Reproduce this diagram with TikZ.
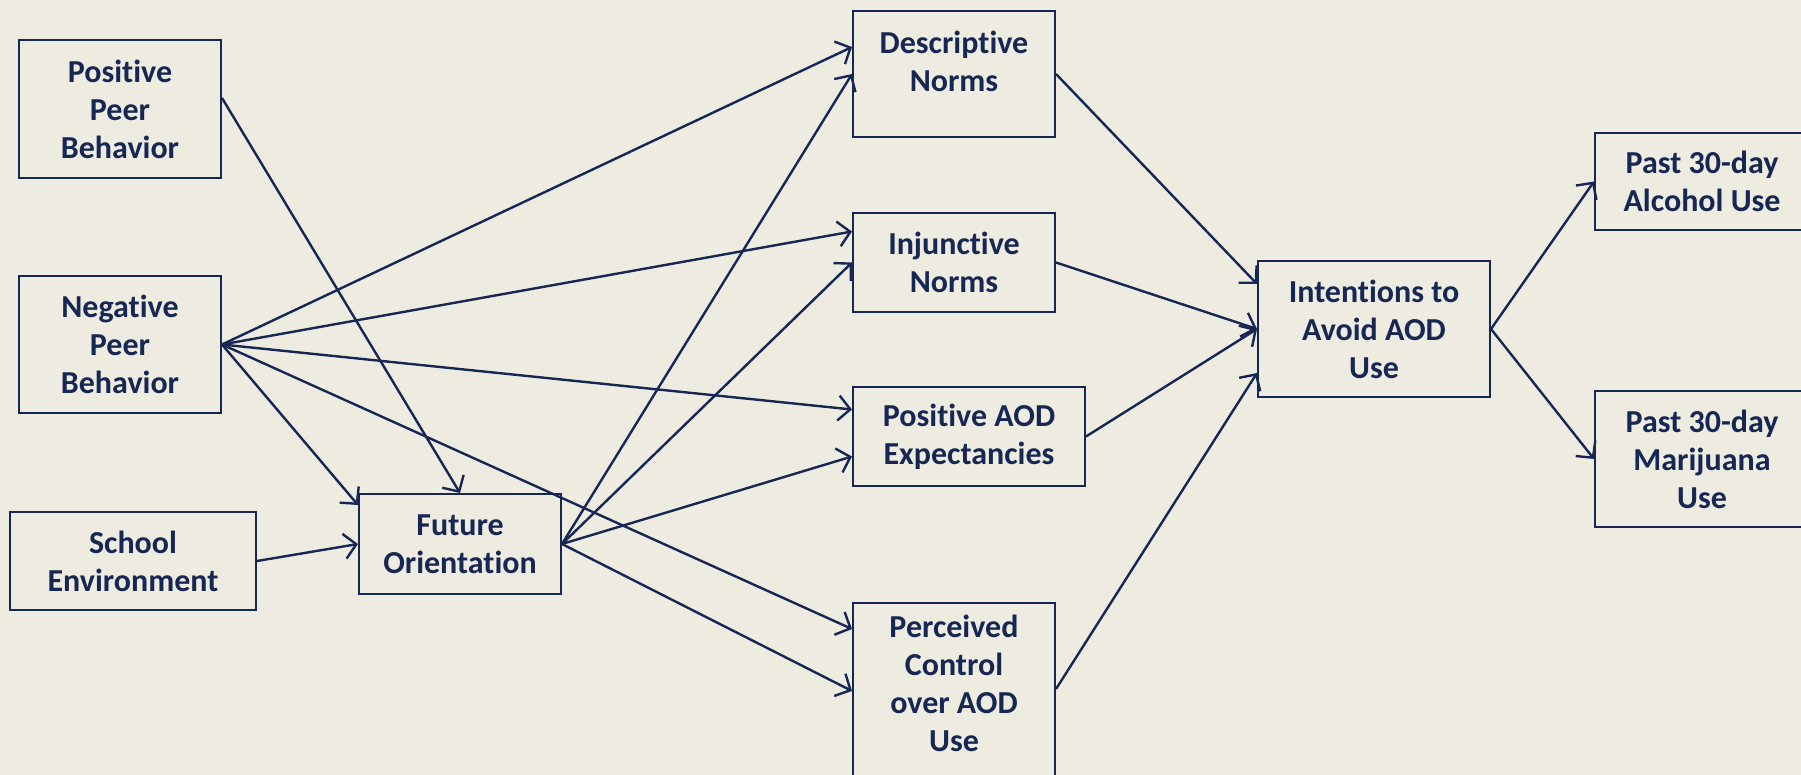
\documentclass[tikz,border=0pt]{standalone}
\usepackage{fontspec}
\setmainfont{Carlito}[Ligatures={NoCommon}]
\usetikzlibrary{arrows.meta,calc}
\definecolor{ink}{HTML}{172753}
\definecolor{bg}{HTML}{EEEBE1}
\tikzset{
  box/.style={draw=ink, line width=2pt, rectangle, anchor=north west, inner sep=0pt,
    text=ink, font=\fontsize{32}{38}\selectfont\bfseries, align=center},
  toplab/.style={anchor=north, text=ink, font=\fontsize{32}{38}\selectfont\bfseries, align=center, inner sep=0pt},
  link/.style={draw=ink, line width=2.4pt, -{Straight Barb[length=12pt,width=25pt]}}
}
\begin{document}
\begin{tikzpicture}[x=1pt,y=-1pt]
\fill[bg] (0,0) rectangle (1801,775);
\useasboundingbox (0,0) rectangle (1801,775);
\begin{scope}
\clip (0,0) rectangle (1801,775);
\node[box, minimum width=202pt, minimum height=138pt] (pos) at (18,39) {Positive\\Peer\\Behavior};
\node[box, minimum width=202pt, minimum height=137pt] (neg) at (18,275) {Negative\\Peer\\Behavior};
\node[box, minimum width=246pt, minimum height=98pt] (school) at (9,511) {School\\Environment};
\node[box, minimum width=202pt, minimum height=100pt] (fut) at (358,493) {Future\\Orientation};
\node[box, minimum width=202pt, minimum height=126pt,
  label={[toplab, yshift=-21pt]north:{Descriptive\\Norms}}] (desc) at (852,10) {};
\node[box, minimum width=202pt, minimum height=99pt] (inj) at (852,212) {Injunctive\\Norms};
\node[box, minimum width=232pt, minimum height=99pt] (aod) at (852,386) {Positive AOD\\Expectancies};
\node[box, minimum width=202pt, minimum height=200pt,
  label={[toplab, yshift=-13pt]north:{Perceived\\Control\\over AOD\\Use}}] (perc) at (852,602) {};
\node[box, minimum width=232pt, minimum height=136pt] (int) at (1257,260) {Intentions to\\Avoid AOD\\Use};
\node[box, minimum width=214pt, minimum height=97pt] (alc) at (1594,132) {Past 30-day\\Alcohol Use};
\node[box, minimum width=214pt, minimum height=136pt] (mar) at (1594,390) {Past 30-day\\Marijuana\\Use};
\end{scope}

\draw[link] ($(pos.east)+(0,-11)$) -- (fut.north);
\draw[link] (neg.east) -- ($(desc.west)+(0,-27)$);
\draw[link] (neg.east) -- ($(inj.west)+(0,-31)$);
\draw[link] (neg.east) -- ($(aod.west)+(0,-27)$);
\draw[link] (neg.east) -- ($(perc.north west)+(0,27)$);
\draw[link] (neg.east) -- ($(fut.north west)+(0,12)$);
\draw[link] (school.east) -- (fut.west);
\draw[link] (fut.east) -- (desc.west);
\draw[link] (fut.east) -- (inj.west);
\draw[link] (fut.east) -- ($(aod.west)+(0,20)$);
\draw[link] (fut.east) -- ($(perc.north west)+(0,89)$);
\draw[link] (desc.east) -- ($(int.north west)+(0,24)$);
\draw[link] (inj.east) -- (int.west);
\draw[link] (aod.east) -- (int.west);
\draw[link] ($(perc.north east)+(0,87)$) -- ($(int.south west)+(0,-25)$);
\draw[link] (int.east) -- (alc.west);
\draw[link] (int.east) -- (mar.west);
\end{tikzpicture}
\end{document}
